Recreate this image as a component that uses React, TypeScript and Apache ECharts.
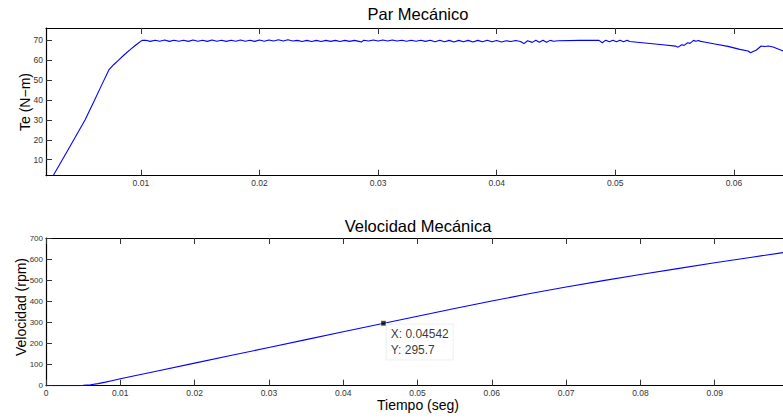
import React, { useEffect, useRef } from "react";
import * as echarts from "echarts";

// ---------- data ----------
const torqueTicksX = [0.01, 0.02, 0.03, 0.04, 0.05, 0.06];
const torqueTickLabelsX = ["0.01", "0.02", "0.03", "0.04", "0.05", "0.06"];
const torqueTicksY = [10, 20, 30, 40, 50, 60, 70];

const speedTicksX = [0, 0.01, 0.02, 0.03, 0.04, 0.05, 0.06, 0.07, 0.08, 0.09];
const speedTickLabelsX = ["0", "0.01", "0.02", "0.03", "0.04", "0.05", "0.06", "0.07", "0.08", "0.09"];
const speedTicksY = [0, 100, 200, 300, 400, 500, 600, 700];

const torqueRise: [number, number][] = [
  [0.0026, 2], [0.0035, 11.2], [0.0045, 21.6], [0.0053, 30], [0.006, 38.7],
  [0.0067, 47.5], [0.0073, 55], [0.0077, 57.6], [0.0081, 59.8], [0.0086, 62.6],
  [0.0091, 65.2], [0.0096, 67.6], [0.0101, 69.8],
];

const torqueFlat: [number, number][] = [
  [0.0104, 69.9], [0.0108, 69.3], [0.0112, 69.9], [0.0116, 69.4], [0.012, 70.0],
  [0.0124, 69.3], [0.0128, 69.9], [0.0132, 69.4], [0.0136, 69.9], [0.014, 69.3],
  [0.0144, 70.0], [0.0148, 69.4], [0.0152, 69.9], [0.0156, 69.3], [0.016, 70.0],
  [0.0164, 69.4], [0.0168, 69.9], [0.0172, 69.3], [0.0176, 69.9], [0.018, 69.4],
  [0.0184, 70.0], [0.0188, 69.4], [0.0192, 69.9], [0.0196, 69.3], [0.02, 70.0],
  [0.0204, 69.4], [0.0208, 70.0], [0.0212, 69.5], [0.0216, 70.1], [0.022, 69.5],
  [0.0224, 70.1], [0.0228, 69.5], [0.0232, 69.8], [0.0236, 69.2], [0.024, 69.8],
  [0.0244, 69.2], [0.0248, 69.8], [0.0252, 69.2], [0.0256, 69.8], [0.026, 69.3],
  [0.0264, 69.8], [0.0268, 69.2], [0.0272, 69.8], [0.0276, 69.3], [0.028, 69.8],
  [0.0284, 69.3], [0.0286, 69.0], [0.0288, 69.9], [0.0292, 69.5], [0.0296, 70.0],
  [0.03, 69.5], [0.0304, 70.0], [0.0308, 69.5], [0.0312, 70.0], [0.0316, 69.5],
  [0.032, 69.9], [0.0324, 69.4], [0.0328, 69.9], [0.0332, 69.4], [0.0336, 69.9],
  [0.034, 69.3], [0.0344, 69.9], [0.0348, 69.1], [0.0352, 69.9], [0.0356, 69.1],
  [0.036, 69.8], [0.0364, 69.0], [0.0368, 69.8], [0.0372, 69.1], [0.0376, 69.8],
  [0.038, 69.0], [0.0384, 69.8], [0.0388, 69.1], [0.0392, 69.9], [0.0396, 69.1],
  [0.04, 69.7], [0.0404, 69.0], [0.0408, 69.6], [0.0412, 69.2], [0.0416, 69.7],
  [0.042, 69.2], [0.0423, 68.2], [0.0426, 69.6], [0.043, 68.8], [0.0433, 69.9],
  [0.0436, 68.9], [0.0439, 69.9], [0.0442, 68.9], [0.0445, 69.8], [0.0448, 69.4],
  [0.0452, 69.6], [0.047, 69.8], [0.0486, 69.9], [0.0489, 68.6], [0.0492, 69.9],
  [0.0495, 69.1], [0.0498, 69.9], [0.0501, 69.1], [0.0504, 69.9], [0.0507, 69.1],
  [0.051, 69.9],
];

const torqueTail: [number, number][] = [
  [0.0512, 69.2], [0.0525, 68.5], [0.054, 67.6], [0.0551, 66.9], [0.0553, 66.4],
  [0.0556, 67.6], [0.0558, 67.3], [0.0561, 68.6], [0.0563, 68.3], [0.0566, 69.8],
  [0.0568, 69.4], [0.057, 69.7], [0.0572, 69.3], [0.0575, 69.0], [0.0585, 67.9],
  [0.0595, 66.8], [0.0605, 65.3], [0.0612, 64.5], [0.0614, 63.6], [0.0619, 65.0],
  [0.0623, 67.0], [0.0626, 66.7], [0.0629, 67.0], [0.0633, 66.5], [0.0641, 64.6],
  [0.065, 63.8],
];

const speedTime = [0, 0.002, 0.0045, 0.005, 0.006, 0.007, 0.008, 0.009, 0.01, 0.015, 0.02,
  0.025, 0.03, 0.035, 0.04, 0.045, 0.05, 0.055, 0.06, 0.065, 0.07, 0.075, 0.08, 0.085,
  0.09, 0.095, 0.1];
const speedValue = [0, 0, 0.3, 1.5, 4.5, 10, 17, 25, 33, 70, 107, 144, 181, 218.5, 255.5,
  292.6, 329.5, 366, 401.5, 435.5, 467.5, 498, 527, 555, 582.5, 609, 635];

const tipX = 0.04542;
const tipY = 295.7;

// ---------- component ----------
const FONT = "'Liberation Sans', Arial, Helvetica, sans-serif";

export default function App() {
  const ref = useRef<HTMLDivElement>(null);

  useEffect(() => {
    if (!ref.current) return;
    const chart = echarts.init(ref.current, undefined, { renderer: "svg" });

    const lineAxis = { show: true, onZero: false, lineStyle: { color: "#000", width: 1.2 } };
    const tick = (vals: number[]) => ({
      show: true,
      inside: true,
      length: 6,
      customValues: vals,
      lineStyle: { color: "#333", width: 1 },
    });
    const labelStyle = { fontSize: 8.5, color: "#333", fontFamily: FONT };

    const torqueData = [...torqueRise, ...torqueFlat, ...torqueTail];
    const speedData = speedTime.map((t, i) => [t, speedValue[i]]);

    const option: any = {
      animation: false,
      grid: [
        { left: 46, top: 28, width: 747.2, height: 147.7 },
        { left: 46, top: 238, width: 743, height: 147.7 },
      ],
      xAxis: [
        {
          gridIndex: 0, type: "value", min: 0.002, max: 0.065, position: "bottom",
          axisLine: lineAxis, axisTick: tick(torqueTicksX),
          axisLabel: {
            ...labelStyle, margin: 3, customValues: torqueTicksX,
            formatter: (v: number) => torqueTickLabelsX[torqueTicksX.findIndex((x) => Math.abs(x - v) < 1e-9)] ?? "",
          },
          splitLine: { show: false },
        },
        {
          gridIndex: 0, type: "value", min: 0.002, max: 0.065, position: "top",
          axisLine: lineAxis, axisTick: tick(torqueTicksX),
          axisLabel: { show: false }, splitLine: { show: false },
        },
        {
          gridIndex: 1, type: "value", min: 0, max: 0.1, position: "bottom",
          axisLine: lineAxis, axisTick: tick(speedTicksX),
          axisLabel: {
            ...labelStyle, margin: 3, customValues: speedTicksX,
            formatter: (v: number) => speedTickLabelsX[speedTicksX.findIndex((x) => Math.abs(x - v) < 1e-9)] ?? "",
          },
          splitLine: { show: false },
        },
        {
          gridIndex: 1, type: "value", min: 0, max: 0.1, position: "top",
          axisLine: lineAxis, axisTick: tick(speedTicksX),
          axisLabel: { show: false }, splitLine: { show: false },
        },
      ],
      yAxis: [
        {
          gridIndex: 0, type: "value", min: 2, max: 76, position: "left",
          axisLine: lineAxis, axisTick: tick(torqueTicksY),
          axisLabel: { ...labelStyle, margin: 3, customValues: torqueTicksY },
          splitLine: { show: false },
        },
        {
          gridIndex: 1, type: "value", min: 0, max: 700, position: "left",
          axisLine: lineAxis, axisTick: tick(speedTicksY),
          axisLabel: { ...labelStyle, fontSize: 8, margin: 3, customValues: speedTicksY },
          splitLine: { show: false },
        },
      ],
      series: [
        {
          type: "line", xAxisIndex: 0, yAxisIndex: 0, data: torqueData,
          showSymbol: false, lineStyle: { color: "#0000ff", width: 1.1 }, z: 3,
        },
        {
          type: "line", xAxisIndex: 2, yAxisIndex: 1, data: speedData,
          showSymbol: false, lineStyle: { color: "#0000ff", width: 1.1 }, z: 3,
        },
        {
          type: "scatter", xAxisIndex: 2, yAxisIndex: 1, data: [[tipX, tipY]],
          symbol: "rect", symbolSize: 5, z: 5,
          itemStyle: { color: "#000", borderColor: "#eee8a0", borderWidth: 0.5 },
          label: {
            show: true,
            position: [6, 4],
            align: "left",
            verticalAlign: "top",
            formatter: `X: ${tipX}\nY: ${tipY}`,
            fontSize: 12,
            lineHeight: 15.5,
            color: "#000",
            fontFamily: FONT,
            backgroundColor: "#fff",
            borderColor: "#ececec",
            borderWidth: 1,
            padding: [2, 4, 2, 4],
          },
        },
      ],
      graphic: [
        {
          type: "text", x: 418, y: 14,
          style: { text: "Par Mecánico", fontSize: 16.5, fontFamily: FONT, fill: "#000", textAlign: "center", textVerticalAlign: "middle" },
        },
        {
          type: "text", x: 418, y: 226,
          style: { text: "Velocidad Mecánica", fontSize: 16.5, fontFamily: FONT, fill: "#000", textAlign: "center", textVerticalAlign: "middle" },
        },
        {
          type: "text", x: 418, y: 405,
          style: { text: "Tiempo (seg)", fontSize: 14, fontFamily: FONT, fill: "#000", textAlign: "center", textVerticalAlign: "middle" },
        },
        {
          type: "text", x: 25, y: 102, rotation: Math.PI / 2,
          style: { text: "Te (N−m)", fontSize: 14, fontFamily: FONT, fill: "#000", textAlign: "center", textVerticalAlign: "middle" },
        },
        {
          type: "text", x: 20.5, y: 307, rotation: Math.PI / 2,
          style: { text: "Velocidad (rpm)", fontSize: 14, fontFamily: FONT, fill: "#000", textAlign: "center", textVerticalAlign: "middle" },
        },
      ],
    };

    chart.setOption(option);
    return () => chart.dispose();
  }, []);

  return (
    <div style={{ position: "fixed", left: 0, top: 0, width: 783, height: 419, overflow: "hidden", background: "#fff" }}>
      <div ref={ref} style={{ width: 800, height: 419 }} />
    </div>
  );
}
